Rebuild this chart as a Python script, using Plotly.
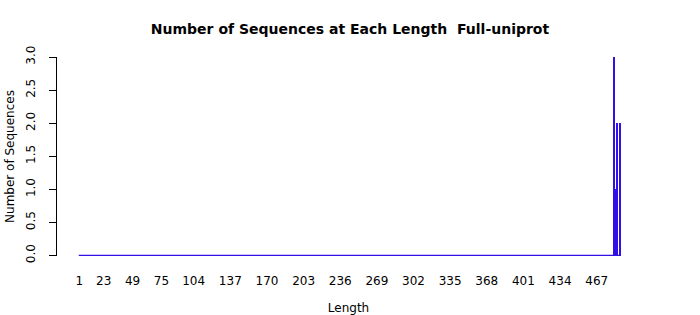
import plotly.graph_objects as go

# Data
length_min = 1
length_max = 488
obs_lengths = [483, 484, 485, 488]
obs_counts = [3, 1, 2, 2]
x_tick_labels = [1, 23, 49, 75, 104, 137, 170, 203, 236, 269, 302, 335, 368, 401, 434, 467]
y_tick_values = [0.0, 0.5, 1.0, 1.5, 2.0, 2.5, 3.0]

BLUE = "#3010E6"
FONT = "DejaVu Sans"

fig = go.Figure()

# zero-height bars appear as a flat line along the baseline
fig.add_trace(go.Scatter(
    x=[length_min - 0.5, length_max + 0.5], y=[0, 0],
    mode="lines", line=dict(color=BLUE, width=1.3),
    hoverinfo="skip", showlegend=False, cliponaxis=False,
))

fig.add_trace(go.Bar(
    x=obs_lengths, y=obs_counts, width=0.95,
    marker=dict(color=BLUE, line=dict(width=0)),
    showlegend=False,
))

fig.update_layout(
    width=700, height=315,
    margin=dict(l=57, r=60, t=57, b=59),
    paper_bgcolor="white", plot_bgcolor="white",
    font=dict(family=FONT, size=12, color="black"),
    title=dict(
        text="<b>Number of Sequences at Each Length  Full-uniprot</b>",
        font=dict(family=FONT, size=14, color="black"),
        x=0.5, xref="container", xanchor="center",
        y=1 - 29 / 315, yref="container", yanchor="middle",
    ),
    bargap=0,
)

fig.update_xaxes(
    range=[-19.1, 506], automargin=False,
    tickmode="array", tickvals=x_tick_labels, ticktext=[str(v) for v in x_tick_labels],
    showline=False, showgrid=False, zeroline=False, ticks="",
    ticklabelstandoff=16,
    tickfont=dict(family=FONT, size=12, color="black"),
    title=dict(text="Length", font=dict(family=FONT, size=12, color="black"), standoff=16),
)

fig.update_yaxes(
    range=[-0.0076, 3.0], automargin=False,
    tickmode="array", tickvals=y_tick_values, ticktext=[f"{v:.1f}" for v in y_tick_values],
    tickangle=-90,
    showline=True, linecolor="black", linewidth=1,
    ticks="outside", ticklen=7, tickcolor="black", tickwidth=1,
    ticklabelstandoff=9,
    showgrid=False, zeroline=False,
    tickfont=dict(family=FONT, size=12, color="black"),
    title=dict(text="Number of Sequences", font=dict(family=FONT, size=12, color="black"), standoff=7),
)

fig.write_html("out.html")
